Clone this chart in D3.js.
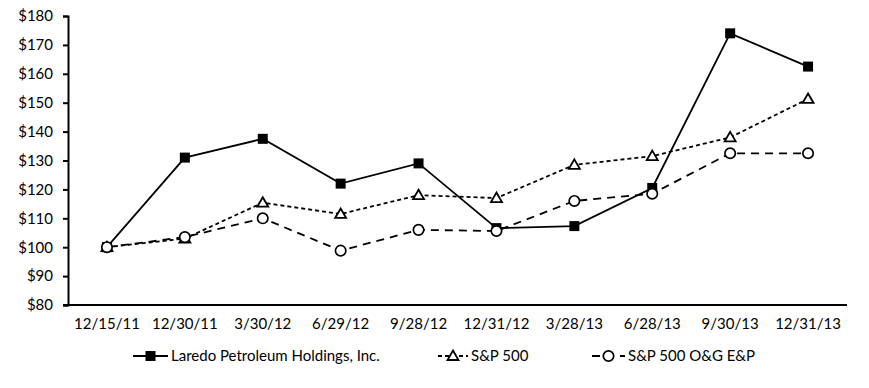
<!DOCTYPE html>
<html>
<head>
<meta charset="UTF-8">
<style>
  body { margin: 0; background: #fff; }
  svg text { font-family: Lato, "Open Sans", sans-serif; font-size: 15px; fill: #000; }
</style>
</head>
<body>
<div id="chart"></div>
<script src="https://d3js.org/d3.v7.min.js"></script>
<script>
const dates = ["12/15/11", "12/30/11", "3/30/12", "6/29/12", "9/28/12", "12/31/12", "3/28/13", "6/28/13", "9/30/13", "12/31/13"];
const laredo = [100, 131, 137.5, 122, 129, 106.6, 107.3, 120.5, 174, 162.5];
const sp500 = [100, 103, 115.4, 111.5, 118, 117, 128.5, 131.5, 138, 151.3];
const ogep = [100, 103.5, 110, 98.8, 106, 105.6, 116, 118.5, 132.5, 132.5];
const yTicks = [80, 90, 100, 110, 120, 130, 140, 150, 160, 170, 180];

const W = 869, H = 388;
const mLeft = 68, mRight = 847, mTop = 16, mBottom = 305;

const svg = d3.select("#chart").append("svg").attr("width", W).attr("height", H);

const x = d3.scaleBand().domain(dates).range([mLeft, mRight]);
const y = d3.scaleLinear().domain([80, 180]).range([mBottom, mTop]);
const cx = d => x(d) + x.bandwidth() / 2;

// y axis
const ya = svg.append("g").attr("transform", `translate(${mLeft},0)`)
  .call(d3.axisLeft(y).tickValues(yTicks).tickSize(5).tickPadding(10).tickFormat(d => "$" + d));
ya.select(".domain").attr("stroke-width", 2);
ya.selectAll(".tick line").attr("stroke-width", 2);
ya.attr("font-size", null).attr("font-family", null);

// x axis
const xa = svg.append("g").attr("transform", `translate(0,${mBottom})`)
  .call(d3.axisBottom(x).tickSize(0).tickPadding(13));
xa.select(".domain").attr("stroke-width", 2).attr("d", `M${mLeft - 5},0H${mRight}`);
xa.attr("font-size", null).attr("font-family", null);

const series = [
  { name: "Laredo Petroleum Holdings, Inc.", vals: laredo, dash: null, mark: "square", lx: 133, lw: 35 },
  { name: "S&P 500", vals: sp500, dash: "4,3", mark: "triangle", lx: 438, lw: 30 },
  { name: "S&P 500 O&G E&P", vals: ogep, dash: "8,6", mark: "circle", lx: 592, lw: 33 }
];

function drawMark(g, type, px, py) {
  if (type === "square") {
    g.append("rect").attr("x", px - 5).attr("y", py - 5).attr("width", 10).attr("height", 10).attr("fill", "#000");
  } else if (type === "triangle") {
    g.append("path").attr("d", `M${px},${py - 5.5}L${px + 5.5},${py + 4}L${px - 5.5},${py + 4}Z`)
      .attr("fill", "#fff").attr("stroke", "#000").attr("stroke-width", 1.8);
  } else {
    g.append("circle").attr("cx", px).attr("cy", py).attr("r", 5.2)
      .attr("fill", "#fff").attr("stroke", "#000").attr("stroke-width", 1.7);
  }
}

const line = d3.line().x((d, i) => cx(dates[i])).y(d => y(d));

// draw order: Laredo, S&P, O&G on top
series.forEach(s => {
  const g = svg.append("g");
  g.append("path").attr("d", line(s.vals)).attr("fill", "none").attr("stroke", "#000")
    .attr("stroke-width", 1.8).attr("stroke-dasharray", s.dash);
  s.vals.forEach((v, i) => drawMark(g, s.mark, cx(dates[i]), y(v)));
});

// legend
const ly = 356;
series.forEach(s => {
  const g = svg.append("g");
  g.append("line").attr("x1", s.lx).attr("x2", s.lx + s.lw).attr("y1", ly).attr("y2", ly)
    .attr("stroke", "#000").attr("stroke-width", 1.8).attr("stroke-dasharray", s.dash);
  drawMark(g, s.mark, s.lx + s.lw / 2, ly);
  g.append("text").attr("x", s.lx + s.lw + 3).attr("y", ly).attr("dy", "0.35em").text(s.name);
});
</script>
</body>
</html>
